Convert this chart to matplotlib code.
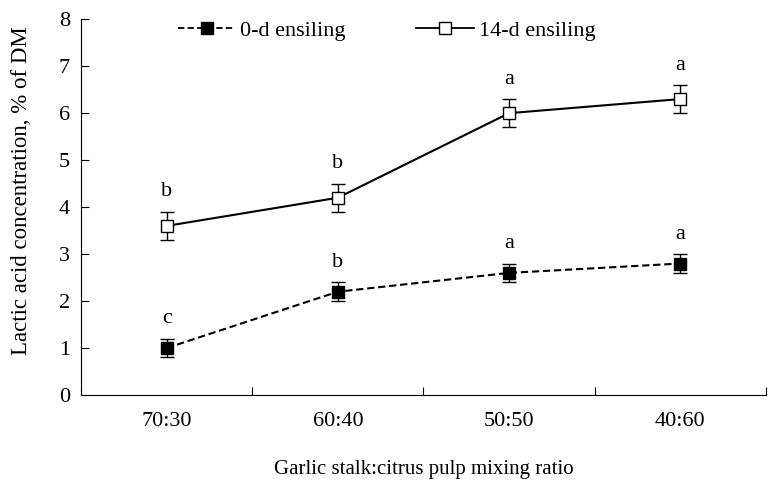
import matplotlib

matplotlib.use("Agg")

import matplotlib.pyplot as plt
import numpy as np
from matplotlib.lines import Line2D

ratios = ["70:30", "60:40", "50:50", "40:60"]
day0_mean = [1.0, 2.2, 2.6, 2.8]
day0_err = [0.2, 0.2, 0.2, 0.2]
day0_letters = ["c", "b", "a", "a"]
day14_mean = [3.6, 4.2, 6.0, 6.3]
day14_err = [0.3, 0.3, 0.3, 0.3]
day14_letters = ["b", "b", "a", "a"]

plt.rcParams["font.family"] = ["Liberation Serif", "DejaVu Serif"]
plt.rcParams["font.size"] = 16

fig = plt.figure(figsize=(7.8, 4.92), dpi=100)
ax = fig.add_axes([0.1038, 0.197, 0.8782, 0.764])

x = np.arange(len(ratios))
dash = (0, (3.5, 1.8))

ax.errorbar(x, day0_mean, yerr=day0_err, color="black", linestyle=dash,
            linewidth=1.5, marker="s", markersize=9, markerfacecolor="black",
            markeredgecolor="black", ecolor="black", elinewidth=1, capsize=5,
            capthick=1, zorder=3)
ax.errorbar(x, day14_mean, yerr=day14_err, color="black", linestyle="-",
            linewidth=1.5, marker="s", markersize=9, markerfacecolor="white",
            markeredgecolor="black", markeredgewidth=1, ecolor="black",
            elinewidth=1, capsize=5, capthick=1, zorder=3)

for xi, m, e, t in zip(x, day0_mean, day0_err, day0_letters):
    ax.text(xi, m + e + 0.22, t, ha="center", va="bottom")
for xi, m, e, t in zip(x, day14_mean, day14_err, day14_letters):
    ax.text(xi, m + e + 0.22, t, ha="center", va="bottom")

ax.set_xlim(-0.5, len(ratios) - 0.5)
ax.set_ylim(0, 8)
ax.set_yticks(range(0, 9))
ax.set_xticks(x)
ax.set_xticklabels(ratios)
ax.set_xticks(np.arange(-0.5, len(ratios)), minor=True)
ax.tick_params(axis="x", which="major", length=0, pad=12)
ax.tick_params(axis="x", which="minor", direction="in", length=6, width=0.8)
ax.tick_params(axis="y", direction="in", length=6, width=0.8, pad=8)

for side in ["top", "right"]:
    ax.spines[side].set_visible(False)
for side in ["left", "bottom"]:
    ax.spines[side].set_linewidth(0.8)

ax.set_xlabel("Garlic stalk:citrus pulp mixing ratio", fontsize=15, labelpad=21)
ax.set_ylabel("Lactic acid concentration, % of DM", fontsize=16.5)
ax.yaxis.set_label_coords(-0.072, 0.545)

handles = [
    Line2D([], [], color="black", linestyle=dash, linewidth=1.3, marker="s",
           markersize=8, markerfacecolor="black", markeredgecolor="black"),
    Line2D([], [], color="black", linestyle="-", linewidth=1.3, marker="s",
           markersize=8, markerfacecolor="white", markeredgecolor="black"),
]
ax.legend(handles, ["0-d ensiling", "14-d ensiling"], loc="upper center",
          bbox_to_anchor=(0.446, 1.05), ncol=2, frameon=False,
          handlelength=2.6, columnspacing=3.2, handletextpad=0.2)

fig.savefig("out.png", dpi=100)
